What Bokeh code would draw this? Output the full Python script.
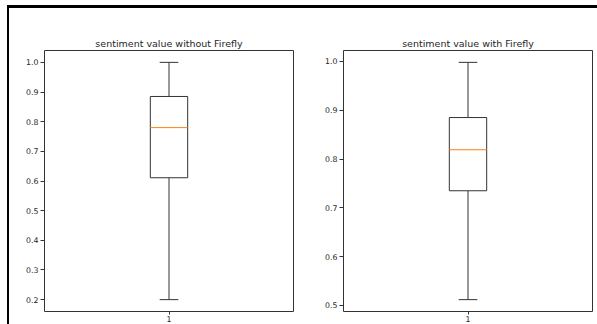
from bokeh.plotting import figure
from bokeh.layouts import row, column
from bokeh.models import ColumnDataSource, Range1d, FixedTicker, PrintfTickFormatter, Spacer
from bokeh.embed import file_html
from bokeh.resources import INLINE

# ---- data ----
titles = ["sentiment value without Firefly", "sentiment value with Firefly"]
positions = [1]
x_tick_labels = {1: "1"}
whisker_low = [0.200, 0.512]
q1 = [0.611, 0.735]
median = [0.780, 0.819]
q3 = [0.885, 0.885]
whisker_high = [1.000, 0.998]
y_ticks = [
    [0.2, 0.3, 0.4, 0.5, 0.6, 0.7, 0.8, 0.9, 1.0],
    [0.5, 0.6, 0.7, 0.8, 0.9, 1.0],
]

BOX_W = 0.15
CAP_W = 0.075
FONT = "DejaVu Sans"
LINE = "#333333"
TEXT = "#262626"
FIG_H = 316


def make_panel(i, width, mb_left, mb_right):
    lo, hi = whisker_low[i], whisker_high[i]
    pad = (hi - lo) * 0.05
    p = figure(width=width, height=FIG_H, output_backend="svg", toolbar_location=None,
               x_range=Range1d(0.5, 1.5), y_range=Range1d(lo - pad, hi + pad),
               min_border_left=mb_left, min_border_right=mb_right,
               min_border_top=42, min_border_bottom=8)
    p.title.text = titles[i]
    p.title.align = "center"
    p.title.text_font = FONT
    p.title.text_font_size = "9.5px"
    p.title.text_font_style = "normal"
    p.title.text_color = TEXT
    p.title.standoff = 4
    p.grid.visible = False
    p.outline_line_color = LINE
    p.outline_line_width = 1
    p.outline_line_alpha = 1
    p.background_fill_color = "white"
    p.border_fill_color = "white"

    for ax in (p.xaxis[0], p.yaxis[0]):
        ax.axis_line_color = None
        ax.major_tick_line_color = LINE
        ax.major_tick_in = 0
        ax.minor_tick_line_color = None
        ax.major_label_text_font = FONT
        ax.major_label_text_font_size = "7.8px"
        ax.major_label_text_color = TEXT
    p.yaxis[0].major_tick_out = 4
    p.yaxis[0].major_label_standoff = 2
    p.xaxis[0].major_tick_out = 3
    p.xaxis[0].major_label_standoff = 1
    p.yaxis[0].ticker = FixedTicker(ticks=y_ticks[i])
    p.yaxis[0].formatter = PrintfTickFormatter(format="%.1f")
    p.xaxis[0].ticker = FixedTicker(ticks=positions)
    p.xaxis[0].major_label_overrides = x_tick_labels

    src = ColumnDataSource(dict(
        x=positions, low=[whisker_low[i]], q1=[q1[i]], med=[median[i]],
        q3=[q3[i]], high=[whisker_high[i]],
        bl=[positions[0] - BOX_W / 2], br=[positions[0] + BOX_W / 2],
        cl=[positions[0] - CAP_W / 2], cr=[positions[0] + CAP_W / 2],
    ))
    # whiskers
    p.segment(x0="x", y0="q3", x1="x", y1="high", source=src, line_color=LINE, line_width=1)
    p.segment(x0="x", y0="q1", x1="x", y1="low", source=src, line_color=LINE, line_width=1)
    # caps
    p.segment(x0="cl", y0="high", x1="cr", y1="high", source=src, line_color=LINE, line_width=1)
    p.segment(x0="cl", y0="low", x1="cr", y1="low", source=src, line_color=LINE, line_width=1)
    # box
    p.vbar(x="x", width=BOX_W, bottom="q1", top="q3", source=src,
           fill_color=None, line_color=LINE, line_width=1)
    # median
    p.segment(x0="bl", y0="med", x1="br", y1="med", source=src,
              line_color="#ff7f0e", line_width=1)
    return p


def black_bar(w, h):
    return Spacer(width=w, height=h, styles={"background-color": "black"})


p1 = make_panel(0, 285, 35, 1)
p2 = make_panel(1, 303, 49, 5)

frame = column(
    black_bar(2 + 285 + 303, 3),
    row(black_bar(2, FIG_H), p1, p2),
)
layout = column(
    Spacer(width=597, height=5),
    row(Spacer(width=7, height=FIG_H + 3), frame),
)

with open("out.html", "w") as f:
    f.write(file_html(layout, INLINE))
